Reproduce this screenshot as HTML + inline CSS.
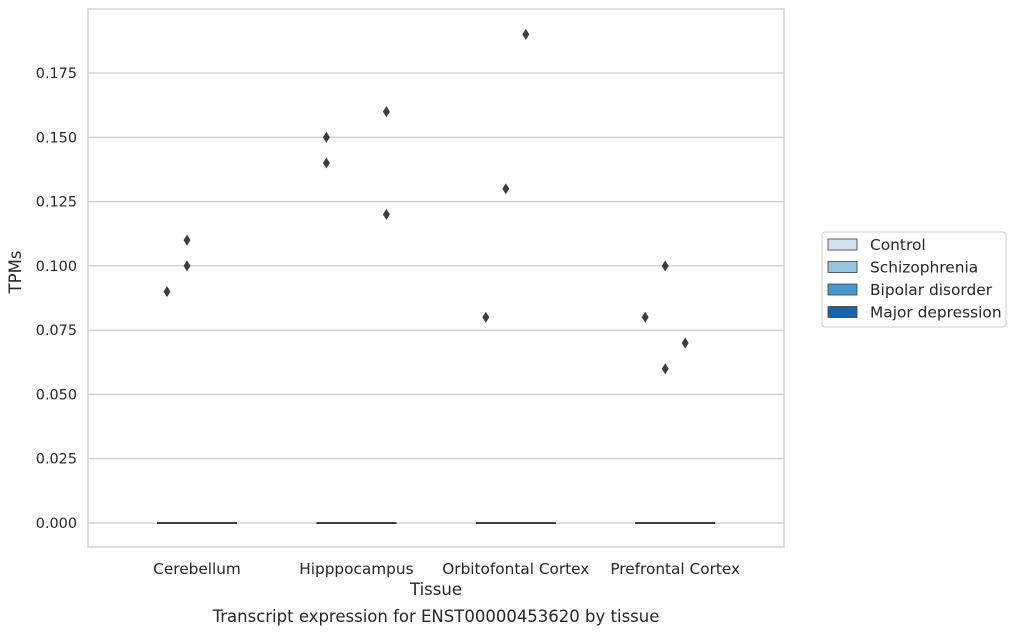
<!DOCTYPE html>
<html><head><meta charset="utf-8"><style>
body{margin:0;background:#fff;font-family:"Liberation Sans","DejaVu Sans",sans-serif}
</style></head><body>
<svg id="c" width="1017" height="634" xmlns="http://www.w3.org/2000/svg" font-family="DejaVu Sans, Liberation Sans, sans-serif" fill="#262626">
<rect x="88" y="9" width="696" height="538" fill="#fff"/>
<g id="grid"></g><g id="marks"></g>
<rect x="88" y="9" width="696" height="538" fill="none" stroke="#cccccc" stroke-width="1.25"/>
<g id="ticks"></g>
<text x="21" y="272" font-size="16.5" text-anchor="middle" transform="rotate(-90 21 272)">TPMs</text>
<text x="436" y="595" font-size="16.5" text-anchor="middle">Tissue</text>
<text x="436" y="622" font-size="16.5" text-anchor="middle">Transcript expression for ENST00000453620 by tissue</text>
<g>
<rect x="822" y="232" width="184" height="95" rx="3" fill="#fff" stroke="#cccccc"/>
<g id="legend"></g>
</g>
</svg>
<script>
const categories=["Cerebellum","Hipppocampus","Orbitofontal Cortex","Prefrontal Cortex"];
const hues=["Control","Schizophrenia","Bipolar disorder","Major depression"];
const hueColors=["#d0e1f2","#94c4df","#4a98c9","#1764ab"];
const yTicks=[0,0.025,0.05,0.075,0.1,0.125,0.15,0.175];
const yTickLabels=["0.000","0.025","0.050","0.075","0.100","0.125","0.150","0.175"];
const medians=[0,0,0,0];
const oc=[0,0,0,1,1,1,1,2,2,2,3,3,3,3];
const oh=[0,1,1,0,0,3,3,0,1,2,0,1,1,2];
const ov=[0.09,0.10,0.11,0.15,0.14,0.16,0.12,0.08,0.13,0.19,0.08,0.10,0.06,0.07];
const NS="http://www.w3.org/2000/svg";
const y=v=>523-v*(450/0.175);
const x=i=>197+i*159.4;
const hx=(i,h)=>x(i)-30+h*20;
function mk(t,a,p){const e=document.createElementNS(NS,t);for(const k in a)e.setAttribute(k,a[k]);p.appendChild(e);return e;}
const G=document.getElementById('grid'),M=document.getElementById('marks'),T=document.getElementById('ticks'),L=document.getElementById('legend');
yTicks.forEach((v,i)=>{
 const l=mk('line',{x1:88,x2:784,y1:y(v),y2:y(v),stroke:'#cccccc','stroke-width':1.25},G);
 
 
 const t=mk('text',{x:77,y:y(v)+5,'font-size':14.4,'text-anchor':'end'},T);t.textContent=yTickLabels[i];
 
 
});
categories.forEach((c,i)=>{
 const t=mk('text',{x:x(i),y:574,'font-size':15.3,'text-anchor':'middle'},T);t.textContent=c;
 
 
 const l=mk('line',{x1:x(i)-40,x2:x(i)+40,y1:y(medians[i]),y2:y(medians[i]),stroke:'#3d3d3d','stroke-width':2},M);
 
 
});
function diamond(ci,h,v){
 const cx=hx(ci,h),cy=y(v);
 const p=mk('polygon',{points:`${cx},${cy-5.5} ${cx+3.5},${cy} ${cx},${cy+5.5} ${cx-3.5},${cy}`,fill:'#3d3d3d'},M);
 
 
}
ov.forEach((v,k)=>diamond(oc[k],oh[k],v));
hues.forEach((h,i)=>{
 const yy=245+i*22.5;
 const r=mk('rect',{x:828,y:yy-6,width:29,height:11,fill:hueColors[i],stroke:'#3d3d3d','stroke-width':0.8},L);
 
 
 const t=mk('text',{x:870,y:yy+5,'font-size':15.4},L);t.textContent=h;
 
 
});
</script>
</body></html>
